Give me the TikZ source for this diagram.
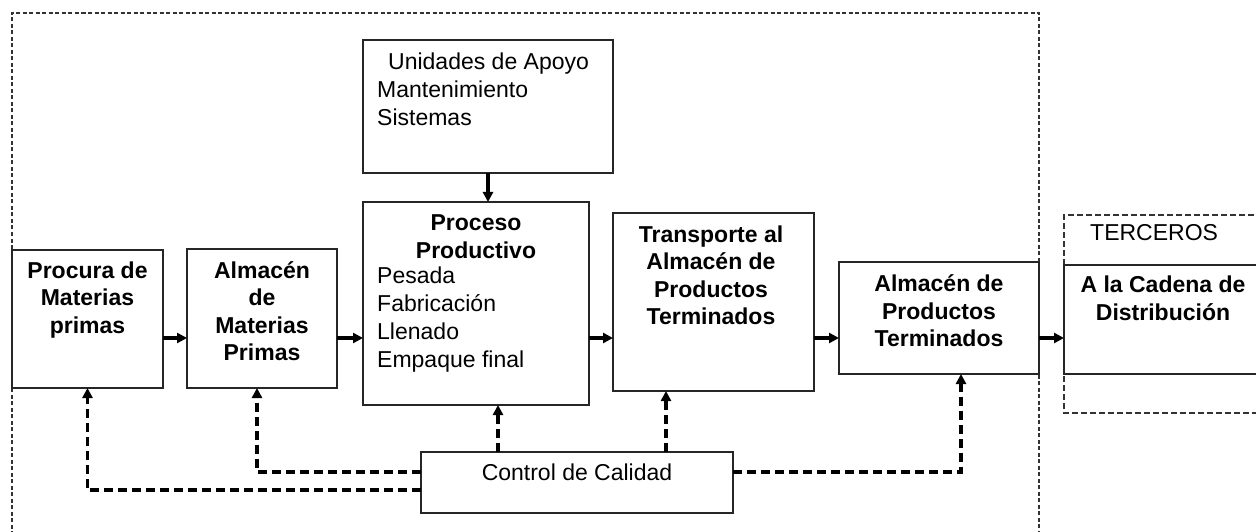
\documentclass[tikz,border=0pt]{standalone}
\usepackage{fontspec}
\setmainfont{Liberation Sans}
\usetikzlibrary{arrows.meta}
\begin{document}
\begin{tikzpicture}[x=1pt,y=1pt,
  box/.style={draw=black!85, line width=1.8pt, inner sep=0pt, outer sep=0pt, fill=none},
  txt/.style={inner sep=0pt, align=center, font=\fontsize{23}{27.5}\selectfont\bfseries},
  rtxt/.style={inner sep=0pt, align=left, font=\fontsize{23}{28}\selectfont},
  arr/.style={line width=3.4pt, -{Triangle[length=10pt,width=10pt]}},
  darr/.style={line width=3.6pt, dash pattern=on 9pt off 5pt, -{Triangle[length=10pt,width=10pt]}},
  frame/.style={draw=black!80, line width=1.1pt, dash pattern=on 4pt off 2.5pt},
  tframe/.style={draw=black!80, line width=1.5pt, dash pattern=on 6pt off 3pt}]
\useasboundingbox (0,0) rectangle (1256,531);
% outer dashed frame
\draw[frame] (12,-30) -- (12,518) -- (1039,518) -- (1039,-30);
% terceros dashed frame
\draw[tframe] (1290,316) -- (1064,316) -- (1064,118) -- (1290,118);
% boxes
\node[box, minimum width=151pt, minimum height=138pt] (procura) at (87.5,212) {};
\node[box, minimum width=150pt, minimum height=139pt] (almmp) at (262,212.5) {};
\node[box, minimum width=250pt, minimum height=133pt] (unidades) at (488,424.5) {};
\node[box, minimum width=226pt, minimum height=203pt] (proceso) at (476,227.5) {};
\node[box, minimum width=201pt, minimum height=178pt] (transp) at (713.5,229) {};
\node[box, minimum width=200pt, minimum height=112pt] (almpt) at (939,213) {};
\node[box, minimum width=220pt, minimum height=109pt] (cadena) at (1174,211.5) {};
\node[box, minimum width=312pt, minimum height=61pt] (control) at (577,48.5) {};
% texts
\node[txt] (tprocura) at (87.5,231) {Procura de\\Materias\\primas};
\node[txt] (talmmp) at (262,220) {Almacén\\de\\Materias\\Primas};
\node[rtxt, anchor=west] (tunidades) at (377,442) {\hspace{11pt}Unidades de Apoyo\\Mantenimiento\\Sistemas};
\node[txt] (tproceso) at (476,294.5) {Proceso\\Productivo};
\node[rtxt, anchor=west] (tlista) at (377,211) {Pesada\\Fabricación\\Llenado\\Empaque final};
\node[txt] (ttransp) at (711,255.5) {Transporte al\\Almacén de\\Productos\\Terminados};
\node[txt] (talmpt) at (939,220) {Almacén de\\Productos\\Terminados};
\node[txt] (tcadena) at (1163,232.5) {A la Cadena de\\Distribución};
\node[rtxt, anchor=west] (tterceros) at (1090,298) {TERCEROS};
\node[rtxt, align=center] (tcontrol) at (577,59) {Control de Calidad};
% flow coordinates
\coordinate (flow) at (0,193);
\coordinate (c1) at (0,41);
\coordinate (c2) at (0,59);
% solid arrows
\draw[arr] (procura.east |- flow) -- (almmp.west |- flow);
\draw[arr] (almmp.east |- flow) -- (proceso.west |- flow);
\draw[arr] (proceso.east |- flow) -- (transp.west |- flow);
\draw[arr] (transp.east |- flow) -- (almpt.west |- flow);
\draw[arr] (almpt.east |- flow) -- (cadena.west |- flow);
\draw[arr] (unidades.south) -- (unidades.south |- proceso.north);
% dashed control arrows
\coordinate (pA) at ([xshift=-5pt]almmp.south);
\coordinate (pP) at ([xshift=22pt]proceso.south);
\coordinate (pT) at ([xshift=-47.5pt]transp.south);
\coordinate (pF) at ([xshift=22pt]almpt.south);
\draw[darr] (control.west |- c1) -| (procura.south);
\draw[darr] (control.west |- c2) -| (pA);
\draw[darr] (control.north -| pP) -- (pP);
\draw[darr] (control.north -| pT) -- (pT);
\draw[darr] (control.east |- c2) -| (pF);
\end{tikzpicture}
\end{document}
